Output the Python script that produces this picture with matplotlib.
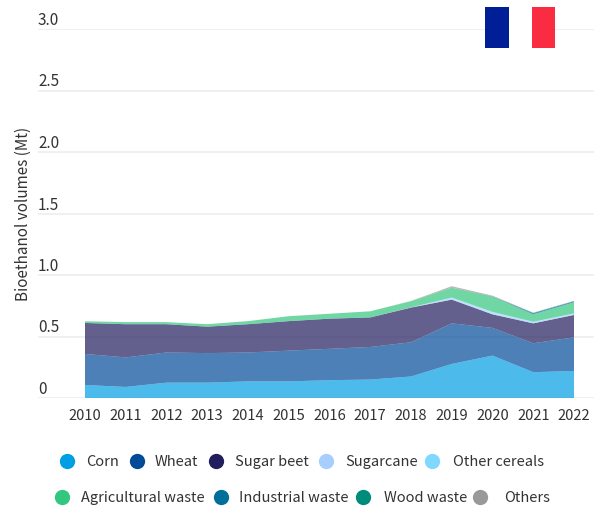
import matplotlib
matplotlib.use("Agg")
import matplotlib.pyplot as plt
from matplotlib.lines import Line2D
from matplotlib.patches import Rectangle

plt.rcParams['font.family'] = ['Noto Sans CJK SC', 'DejaVu Sans']

years = list(range(2010, 2023))
corn = [0.106, 0.09, 0.125, 0.125, 0.135, 0.135, 0.145, 0.15, 0.175, 0.277, 0.345, 0.21, 0.22]
wheat = [0.252, 0.24, 0.245, 0.24, 0.235, 0.25, 0.255, 0.265, 0.278, 0.33, 0.225, 0.235, 0.273]
sugar_beet = [0.252, 0.27, 0.23, 0.215, 0.23, 0.24, 0.245, 0.24, 0.282, 0.193, 0.11, 0.162, 0.182]
sugarcane = [0, 0, 0, 0, 0, 0, 0, 0, 0.002, 0.012, 0.015, 0.01, 0.01]
other_cereals = [0, 0, 0, 0, 0, 0, 0, 0, 0, 0.005, 0.005, 0.003, 0.003]
agri_waste = [0.014, 0.017, 0.017, 0.02, 0.025, 0.04, 0.04, 0.05, 0.05, 0.08, 0.125, 0.06, 0.09]
ind_waste = [0, 0, 0, 0, 0, 0, 0, 0, 0, 0, 0.002, 0.01, 0.008]
wood_waste = [0, 0, 0, 0, 0, 0, 0, 0, 0, 0, 0, 0.002, 0.002]
others = [0, 0, 0, 0, 0, 0, 0, 0, 0.002, 0.012, 0.005, 0.002, 0.002]

series_names = ['Corn', 'Wheat', 'Sugar beet', 'Sugarcane', 'Other cereals',
                'Agricultural waste', 'Industrial waste', 'Wood waste', 'Others']
series_values = [corn, wheat, sugar_beet, sugarcane, other_cereals,
                 agri_waste, ind_waste, wood_waste, others]
series_colors = ['#009FE3', '#004A98', '#211D5E', '#A6CFFF', '#80D8FF',
                 '#33C67E', '#006F99', '#008C7A', '#999999']
y_ticks = [0, 0.5, 1.0, 1.5, 2.0, 2.5, 3.0]
y_labels = ['0', '0.5', '1.0', '1.5', '2.0', '2.5', '3.0']

W, H = 598, 507
fig = plt.figure(figsize=(W / 100, H / 100), dpi=100)
L, R, T, B = 38, 594, 29, 398
ax = fig.add_axes([L / W, 1 - B / H, (R - L) / W, (B - T) / H])
step = (574 - 85) / 12
ax.set_xlim(2010 - (85 - L) / step, 2022 + (R - 574) / step)
ax.set_ylim(0, 3)
for s in ax.spines.values():
    s.set_visible(False)
ax.set_axisbelow(True)
ax.yaxis.grid(True, color='#EDEDED', lw=1.2)
ax.xaxis.grid(False)
ax.stackplot(years, series_values, colors=series_colors, alpha=0.7, linewidth=0)

TXT = '#333333'
ax.set_xticks(years)
ax.set_xticklabels([str(y) for y in years], fontsize=10.6, color=TXT)
ax.tick_params(axis='x', length=0, pad=8)
ax.set_yticks(y_ticks)
ax.set_yticklabels(y_labels, fontsize=11, color=TXT)
ax.tick_params(axis='y', length=0, pad=0)
for t in ax.get_yticklabels():
    t.set_ha('left')
    t.set_va('bottom')
fig.text(23 / W, 1 - 214 / H, 'Bioethanol volumes (Mt)', rotation=90, ha='center',
         va='center', fontsize=11, color=TXT)

# flag
def px_rect(x0, x1, y0, y1, c):
    fig.add_artist(Rectangle((x0 / W, 1 - y1 / H), (x1 - x0) / W, (y1 - y0) / H,
                             transform=fig.transFigure, color=c, lw=0, zorder=5))
px_rect(485, 509, 7, 48, '#001E96')
px_rect(509, 532, 7, 48, '#FFFFFF')
px_rect(532, 555, 7, 48, '#F92C42')

# legend
rows = [(461, [67, 137, 216, 326, 432], [86, 155, 235, 345, 453], [0, 1, 2, 3, 4]),
        (497, [62, 221, 363, 480], [81, 239, 384, 504], [5, 6, 7, 8])]
for y, cx, tx, idx in rows:
    for c, t, i in zip(cx, tx, idx):
        fig.add_artist(Line2D([c / W], [1 - y / H], marker='o', ms=11, mew=0, ls='',
                              color=series_colors[i], transform=fig.transFigure))
        fig.text(t / W, 1 - (y + 1) / H, series_names[i], ha='left', va='center',
                 fontsize=10.5, color=TXT)

fig.savefig('out.png', dpi=100)
